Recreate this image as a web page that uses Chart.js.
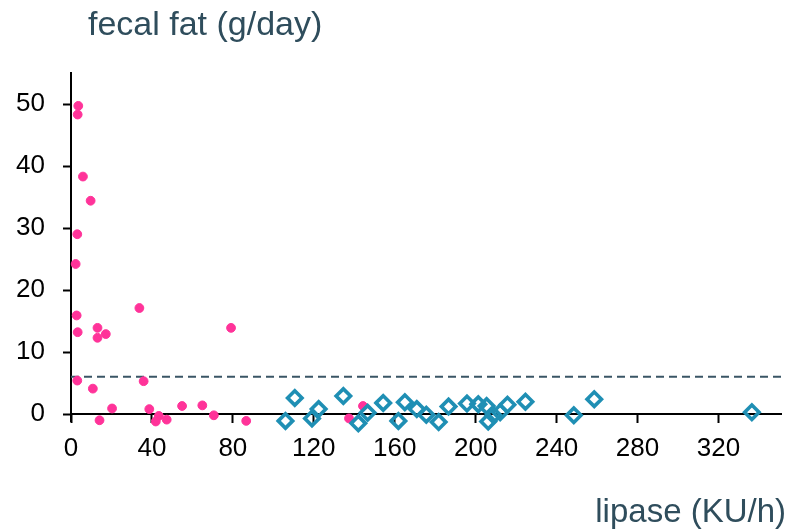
<!DOCTYPE html>
<html>
<head>
<meta charset="utf-8">
<script src="https://cdn.jsdelivr.net/npm/chart.js@4/dist/chart.umd.min.js"></script>
<style>
  html, body { margin: 0; padding: 0; background: #fff; }
  #wrap { width: 792px; height: 531px; }
</style>
</head>
<body>
<div id="wrap"><canvas id="chartFat"></canvas></div>
<script>
// patients with steatorrhea (pink dots)
var lipaseLow = [3.6, 3.3, 5.9, 9.7, 3.1, 2.3, 2.8, 3.3, 13.1, 13.1, 17.2, 33.8, 79.1, 3.1,
    10.8, 35.9, 20.3, 14.1, 38.7, 43.4, 41.9, 47.3, 54.9, 64.9, 70.6, 86.6, 137.4, 144.3];
var fatLow = [49.7, 48.3, 38.3, 34.4, 29.0, 24.2, 15.9, 13.2, 13.9, 12.3, 12.9, 17.1, 13.9, 5.4,
    4.1, 5.3, 0.9, -1.0, 0.8, -0.3, -1.2, -0.9, 1.3, 1.4, -0.2, -1.1, -0.7, 1.3];

// normal lipase output (diamonds)
var lipaseNormal = [110.6, 106, 119.1, 122.4, 134.6, 142, 146.6, 154.3, 161.8, 165, 170.9, 175.6,
    181.7, 186.6, 195.7, 201.3, 205.4, 206.2, 208.8, 212.1, 215.7, 224.6, 248.5, 258.6, 336.5];
var fatNormal = [2.6, -1.1, -0.7, 0.8, 2.9, -1.5, 0.2, 1.8, -1.1, 1.9, 0.8, -0.1,
    -1.3, 1.2, 1.7, 1.6, 1.3, -1.2, -0.2, 0.3, 1.5, 2.0, -0.2, 2.4, 0.3];

var fatLimit = 6;
var xTicks = [0, 40, 80, 120, 160, 200, 240, 280, 320];
var yTicks = [0, 10, 20, 30, 40, 50];
var xRange = [0, 351];
var yRange = [-1.2, 55];

var yTitle = 'fecal fat (g/day)';
var xTitle = 'lipase (KU/h)';

function toPoints(xs, ys) {
    return xs.map(function(x, i) { return { x: x, y: ys[i] }; });
}

var fontFamily = '"Liberation Sans", Arial, Helvetica, sans-serif';
var titleColor = '#2f4d5c';

// axis titles drawn as plain text
var axisTitles = {
    id: 'axisTitles',
    afterDraw: function(chart) {
        var ctx = chart.ctx;
        ctx.save();
        ctx.fillStyle = titleColor;
        ctx.font = '34px ' + fontFamily;
        ctx.textBaseline = 'alphabetic';
        ctx.textAlign = 'left';
        ctx.fillText(yTitle, 88, 35);
        ctx.font = '33px ' + fontFamily;
        ctx.textAlign = 'right';
        ctx.fillText(xTitle, 786, 522);
        ctx.restore();
    }
};

var ctx = document.getElementById('chartFat');
var chartFat = new Chart(ctx, {
    type: 'scatter',
    data: {
        datasets: [
            {
                label: 'normal',
                data: toPoints(lipaseNormal, fatNormal),
                pointStyle: 'rectRot',
                pointRadius: 7.2,
                pointBorderWidth: 3.6,
                borderColor: '#1f8fb4',
                backgroundColor: 'rgba(255,255,255,0)',
                clip: false
            },
            {
                label: 'steatorrhea',
                data: toPoints(lipaseLow, fatLow),
                pointStyle: 'circle',
                pointRadius: 4.4,
                pointBorderWidth: 1,
                borderColor: '#ff3399',
                backgroundColor: '#ff3399',
                clip: false
            },
            {
                type: 'line',
                label: 'limit',
                data: [{ x: xRange[0], y: fatLimit }, { x: xRange[1], y: fatLimit }],
                borderColor: '#3a5565',
                borderWidth: 2,
                borderDash: [8, 5],
                pointRadius: 0,
                fill: false
            }
        ]
    },
    options: {
        responsive: true,
        maintainAspectRatio: false,
        animation: false,
        layout: { padding: { left: 0, top: 73, right: 7, bottom: 109.5 } },
        plugins: {
            legend: { display: false },
            tooltip: { enabled: false }
        },
        scales: {
            x: {
                type: 'linear',
                min: xRange[0],
                max: xRange[1],
                position: { y: 0 },
                afterBuildTicks: function(scale) {
                    scale.ticks = xTicks.map(function(v) { return { value: v }; });
                },
                border: { display: true, color: '#000', width: 2 },
                grid: { display: true, drawOnChartArea: false, drawTicks: true, tickLength: 8, tickWidth: 2, tickColor: '#000' },
                ticks: {
                    color: '#000',
                    padding: 11,
                    maxRotation: 0,
                    font: { family: fontFamily, size: 26 }
                }
            },
            y: {
                type: 'linear',
                min: yRange[0],
                max: yRange[1],
                position: 'left',
                afterBuildTicks: function(scale) {
                    scale.ticks = yTicks.map(function(v) { return { value: v }; });
                },
                afterFit: function(scale) {
                    scale.width = 71;
                },
                border: { display: true, color: '#000', width: 2 },
                grid: { display: true, drawOnChartArea: false, drawTicks: true, tickLength: 8, tickWidth: 2, tickColor: '#000' },
                ticks: {
                    color: '#000',
                    padding: 18,
                    font: { family: fontFamily, size: 26 }
                }
            }
        }
    },
    plugins: [axisTitles]
});
</script>
</body>
</html>
